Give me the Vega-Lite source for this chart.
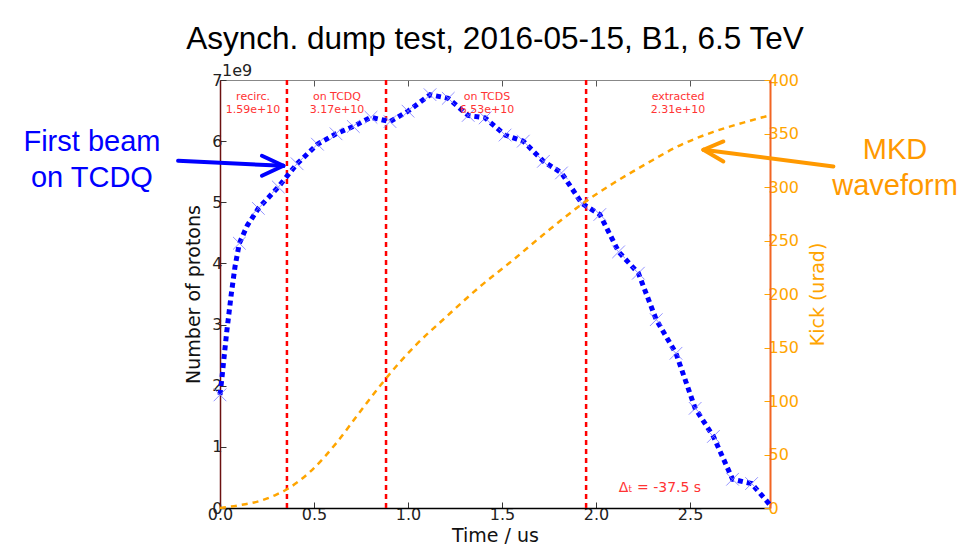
{
  "$schema": "https://vega.github.io/schema/vega-lite/v6.json",
  "width": 550,
  "height": 428,
  "autosize": {"type": "none"},
  "padding": {"left": 220, "top": 80, "right": 198, "bottom": 49},
  "background": "white",
  "title": {
    "text": "Asynch. dump test, 2016-05-15, B1, 6.5 TeV",
    "font": "Liberation Sans",
    "fontSize": 31.5,
    "fontWeight": "normal",
    "color": "black",
    "anchor": "middle",
    "frame": "group",
    "offset": 8
  },
  "config": {
    "view": {"stroke": "#888888", "strokeWidth": 1},
    "axis": {"grid": false, "labelFont": "DejaVu Sans", "titleFont": "DejaVu Sans", "titleFontWeight": "normal"}
  },
  "datasets": {
    "beam": [
      {"t": 0.0, "p": 1.85}, {"t": 0.01, "p": 2.12}, {"t": 0.035, "p": 2.86}, {"t": 0.06, "p": 3.5},
      {"t": 0.08, "p": 3.95}, {"t": 0.103, "p": 4.33}, {"t": 0.145, "p": 4.62}, {"t": 0.204, "p": 4.9},
      {"t": 0.31, "p": 5.25}, {"t": 0.41, "p": 5.63}, {"t": 0.518, "p": 5.95}, {"t": 0.617, "p": 6.12},
      {"t": 0.709, "p": 6.24}, {"t": 0.803, "p": 6.39}, {"t": 0.904, "p": 6.32}, {"t": 1.0, "p": 6.49},
      {"t": 1.117, "p": 6.76}, {"t": 1.214, "p": 6.7}, {"t": 1.32, "p": 6.42}, {"t": 1.41, "p": 6.38},
      {"t": 1.516, "p": 6.1}, {"t": 1.613, "p": 6.0}, {"t": 1.72, "p": 5.67}, {"t": 1.816, "p": 5.48},
      {"t": 1.925, "p": 4.98}, {"t": 2.02, "p": 4.8}, {"t": 2.12, "p": 4.19}, {"t": 2.225, "p": 3.84},
      {"t": 2.32, "p": 3.08}, {"t": 2.425, "p": 2.53}, {"t": 2.527, "p": 1.63}, {"t": 2.624, "p": 1.17},
      {"t": 2.726, "p": 0.47}, {"t": 2.827, "p": 0.4}, {"t": 2.925, "p": 0.05}
    ],
    "beam_marks": [
      {"t": 0.0, "p": 1.85}, {"t": 0.103, "p": 4.33}, {"t": 0.204, "p": 4.9},
      {"t": 0.31, "p": 5.25}, {"t": 0.41, "p": 5.63}, {"t": 0.518, "p": 5.95}, {"t": 0.617, "p": 6.12},
      {"t": 0.709, "p": 6.24}, {"t": 0.803, "p": 6.39}, {"t": 0.904, "p": 6.32}, {"t": 1.0, "p": 6.49},
      {"t": 1.117, "p": 6.76}, {"t": 1.214, "p": 6.7}, {"t": 1.32, "p": 6.42}, {"t": 1.41, "p": 6.38},
      {"t": 1.516, "p": 6.1}, {"t": 1.613, "p": 6.0}, {"t": 1.72, "p": 5.67}, {"t": 1.816, "p": 5.48},
      {"t": 1.925, "p": 4.98}, {"t": 2.02, "p": 4.8}, {"t": 2.12, "p": 4.19}, {"t": 2.225, "p": 3.84},
      {"t": 2.32, "p": 3.08}, {"t": 2.425, "p": 2.53}, {"t": 2.527, "p": 1.63}, {"t": 2.624, "p": 1.17},
      {"t": 2.726, "p": 0.47}, {"t": 2.827, "p": 0.4}
    ],
    "kick": [
      {"t": 0.0, "k": 0}, {"t": 0.1, "k": 2.5}, {"t": 0.2, "k": 6}, {"t": 0.3, "k": 12.5},
      {"t": 0.356, "k": 17.5}, {"t": 0.48, "k": 34}, {"t": 0.62, "k": 61}, {"t": 0.745, "k": 90},
      {"t": 0.878, "k": 120}, {"t": 0.96, "k": 137}, {"t": 1.04, "k": 152}, {"t": 1.205, "k": 179},
      {"t": 1.383, "k": 207}, {"t": 1.56, "k": 232}, {"t": 1.737, "k": 258}, {"t": 1.933, "k": 285},
      {"t": 2.092, "k": 303.5}, {"t": 2.27, "k": 322}, {"t": 2.447, "k": 339}, {"t": 2.624, "k": 351.5},
      {"t": 2.8, "k": 361}, {"t": 2.925, "k": 367}
    ],
    "cuts": [{"t": 0.356}, {"t": 0.883}, {"t": 1.947}],
    "phases": [
      {"t": 0.176, "p": 6.72, "label": "recirc.\n1.59e+10"},
      {"t": 0.622, "p": 6.72, "label": "on TCDQ\n3.17e+10"},
      {"t": 1.42, "p": 6.72, "label": "on TCDS\n6.53e+10"},
      {"t": 2.436, "p": 6.72, "label": "extracted\n2.31e+10"}
    ],
    "delta": [{"t": 2.34, "p": 0.33, "label": "Δₜ = -37.5 s"}],
    "offset": [{"t": 0.0, "p": 7, "label": "1e9"}],
    "arrows": [
      {"arrow": "beam", "t": -0.223, "p": 5.679, "t2": 0.337, "p2": 5.597},
      {"arrow": "beam", "t": 0.223, "p": 5.761, "t2": 0.337, "p2": 5.597},
      {"arrow": "beam", "t": 0.223, "p": 5.434, "t2": 0.337, "p2": 5.597},
      {"arrow": "kick", "t": 3.262, "p": 5.586, "t2": 2.571, "p2": 5.859},
      {"arrow": "kick", "t": 2.677, "p": 5.995, "t2": 2.571, "p2": 5.859},
      {"arrow": "kick", "t": 2.677, "p": 5.668, "t2": 2.571, "p2": 5.859}
    ],
    "callouts": [
      {"arrow": "beam", "t": -0.681, "p": 5.99, "label": "First beam\non TCDQ"},
      {"arrow": "kick", "t": 3.59, "p": 5.86, "label": "MKD\nwaveform"}
    ]
  },
  "layer": [
    {
      "layer": [
        {
          "data": {"name": "cuts"},
          "mark": {"type": "rule", "color": "#ff0000", "strokeWidth": 2.5, "strokeDash": [5, 4]},
          "encoding": {
            "x": {
              "field": "t", "type": "quantitative",
              "scale": {"domain": [0, 2.925], "nice": false, "zero": false},
              "axis": {
                "orient": "bottom", "values": [0, 0.5, 1, 1.5, 2, 2.5], "format": ".1f",
                "tickSize": -6, "tickColor": "#333333", "domainColor": "black", "domainWidth": 1.5,
                "labelFontSize": 16, "labelColor": "#222222", "labelPadding": 4, "labelFlush": false,
                "title": "Time / us", "titleFontSize": 19, "titleColor": "#111111", "titlePadding": 4
              }
            }
          }
        },
        {
          "data": {"name": "beam"},
          "mark": {"type": "line", "color": "#0000ff", "strokeWidth": 5, "strokeDash": [5, 4], "strokeCap": "butt"},
          "encoding": {
            "x": {"field": "t", "type": "quantitative"},
            "y": {
              "field": "p", "type": "quantitative",
              "scale": {"domain": [0, 7], "nice": false, "zero": true},
              "axis": {
                "values": [0, 1, 2, 3, 4, 5, 6, 7], "format": "d", "tickSize": -6, "tickColor": "#333333",
                "domainColor": "#6b1010", "domainWidth": 1.5, "labelFontSize": 16, "labelColor": "#222222",
                "labelPadding": 4, "labelFlush": false,
                "title": "Number of protons", "titleFontSize": 19, "titleColor": "#111111", "titlePadding": 8
              }
            }
          }
        },
        {
          "data": {"name": "beam_marks"},
          "mark": {"type": "point", "shape": "M-1,-1L1,1M1,-1L-1,1", "size": 160, "filled": false, "stroke": "#7a7aff", "strokeWidth": 1, "opacity": 0.8},
          "encoding": {
            "x": {"field": "t", "type": "quantitative"},
            "y": {"field": "p", "type": "quantitative"}
          }
        },
        {
          "data": {"name": "phases"},
          "mark": {"type": "text", "font": "DejaVu Sans", "fontSize": 11, "color": "#ff3333", "lineBreak": "\n", "align": "center", "baseline": "middle", "lineHeight": 13},
          "encoding": {
            "x": {"field": "t", "type": "quantitative"},
            "y": {"field": "p", "type": "quantitative"},
            "text": {"field": "label"}
          }
        },
        {
          "data": {"name": "delta"},
          "mark": {"type": "text", "font": "DejaVu Sans", "fontSize": 14, "color": "#ff3333", "align": "center", "baseline": "middle"},
          "encoding": {
            "x": {"field": "t", "type": "quantitative"},
            "y": {"field": "p", "type": "quantitative"},
            "text": {"field": "label"}
          }
        },
        {
          "data": {"name": "offset"},
          "mark": {"type": "text", "font": "DejaVu Sans", "fontSize": 16, "color": "#222222", "align": "left", "baseline": "bottom", "dx": 2, "dy": -1},
          "encoding": {
            "x": {"field": "t", "type": "quantitative"},
            "y": {"field": "p", "type": "quantitative"},
            "text": {"field": "label"}
          }
        },
        {
          "data": {"name": "arrows"},
          "mark": {"type": "rule", "strokeWidth": 4, "strokeCap": "round"},
          "encoding": {
            "x": {"field": "t", "type": "quantitative"},
            "y": {"field": "p", "type": "quantitative"},
            "x2": {"field": "t2"},
            "y2": {"field": "p2"},
            "color": {"field": "arrow", "type": "nominal", "scale": {"domain": ["beam", "kick"], "range": ["#0000ff", "#ff9900"]}, "legend": null}
          }
        },
        {
          "data": {"name": "callouts"},
          "mark": {"type": "text", "font": "Liberation Sans", "fontSize": 29, "lineBreak": "\n", "lineHeight": 36, "align": "center", "baseline": "middle"},
          "encoding": {
            "x": {"field": "t", "type": "quantitative"},
            "y": {"field": "p", "type": "quantitative"},
            "text": {"field": "label"},
            "color": {"field": "arrow", "type": "nominal", "scale": {"domain": ["beam", "kick"], "range": ["#0000ff", "#ff9900"]}, "legend": null}
          }
        }
      ]
    },
    {
      "data": {"name": "kick"},
      "mark": {"type": "line", "color": "#ffa500", "strokeWidth": 2.5, "strokeDash": [6, 5], "interpolate": "monotone"},
      "encoding": {
        "x": {
          "field": "t", "type": "quantitative",
          "axis": {
            "orient": "top", "values": [0, 0.5, 1, 1.5, 2, 2.5], "labels": false, "title": null,
            "tickSize": -6, "tickColor": "#555555", "domainColor": "#888888", "domainWidth": 1
          }
        },
        "y": {
          "field": "k", "type": "quantitative",
          "scale": {"domain": [0, 400], "nice": false},
          "axis": {
            "orient": "right", "values": [0, 50, 100, 150, 200, 250, 300, 350, 400],
            "tickSize": -6, "tickColor": "#ffa500", "domainColor": "#f26522", "domainWidth": 2,
            "labelFontSize": 16, "labelColor": "#ffa500", "labelPadding": 4, "labelFlush": false,
            "title": "Kick (urad)", "titleFontSize": 19, "titleColor": "#ffa500", "titlePadding": 29, "titleAngle": 270
          }
        }
      }
    }
  ],
  "resolve": {"scale": {"y": "independent"}, "axis": {"x": "independent"}}
}
